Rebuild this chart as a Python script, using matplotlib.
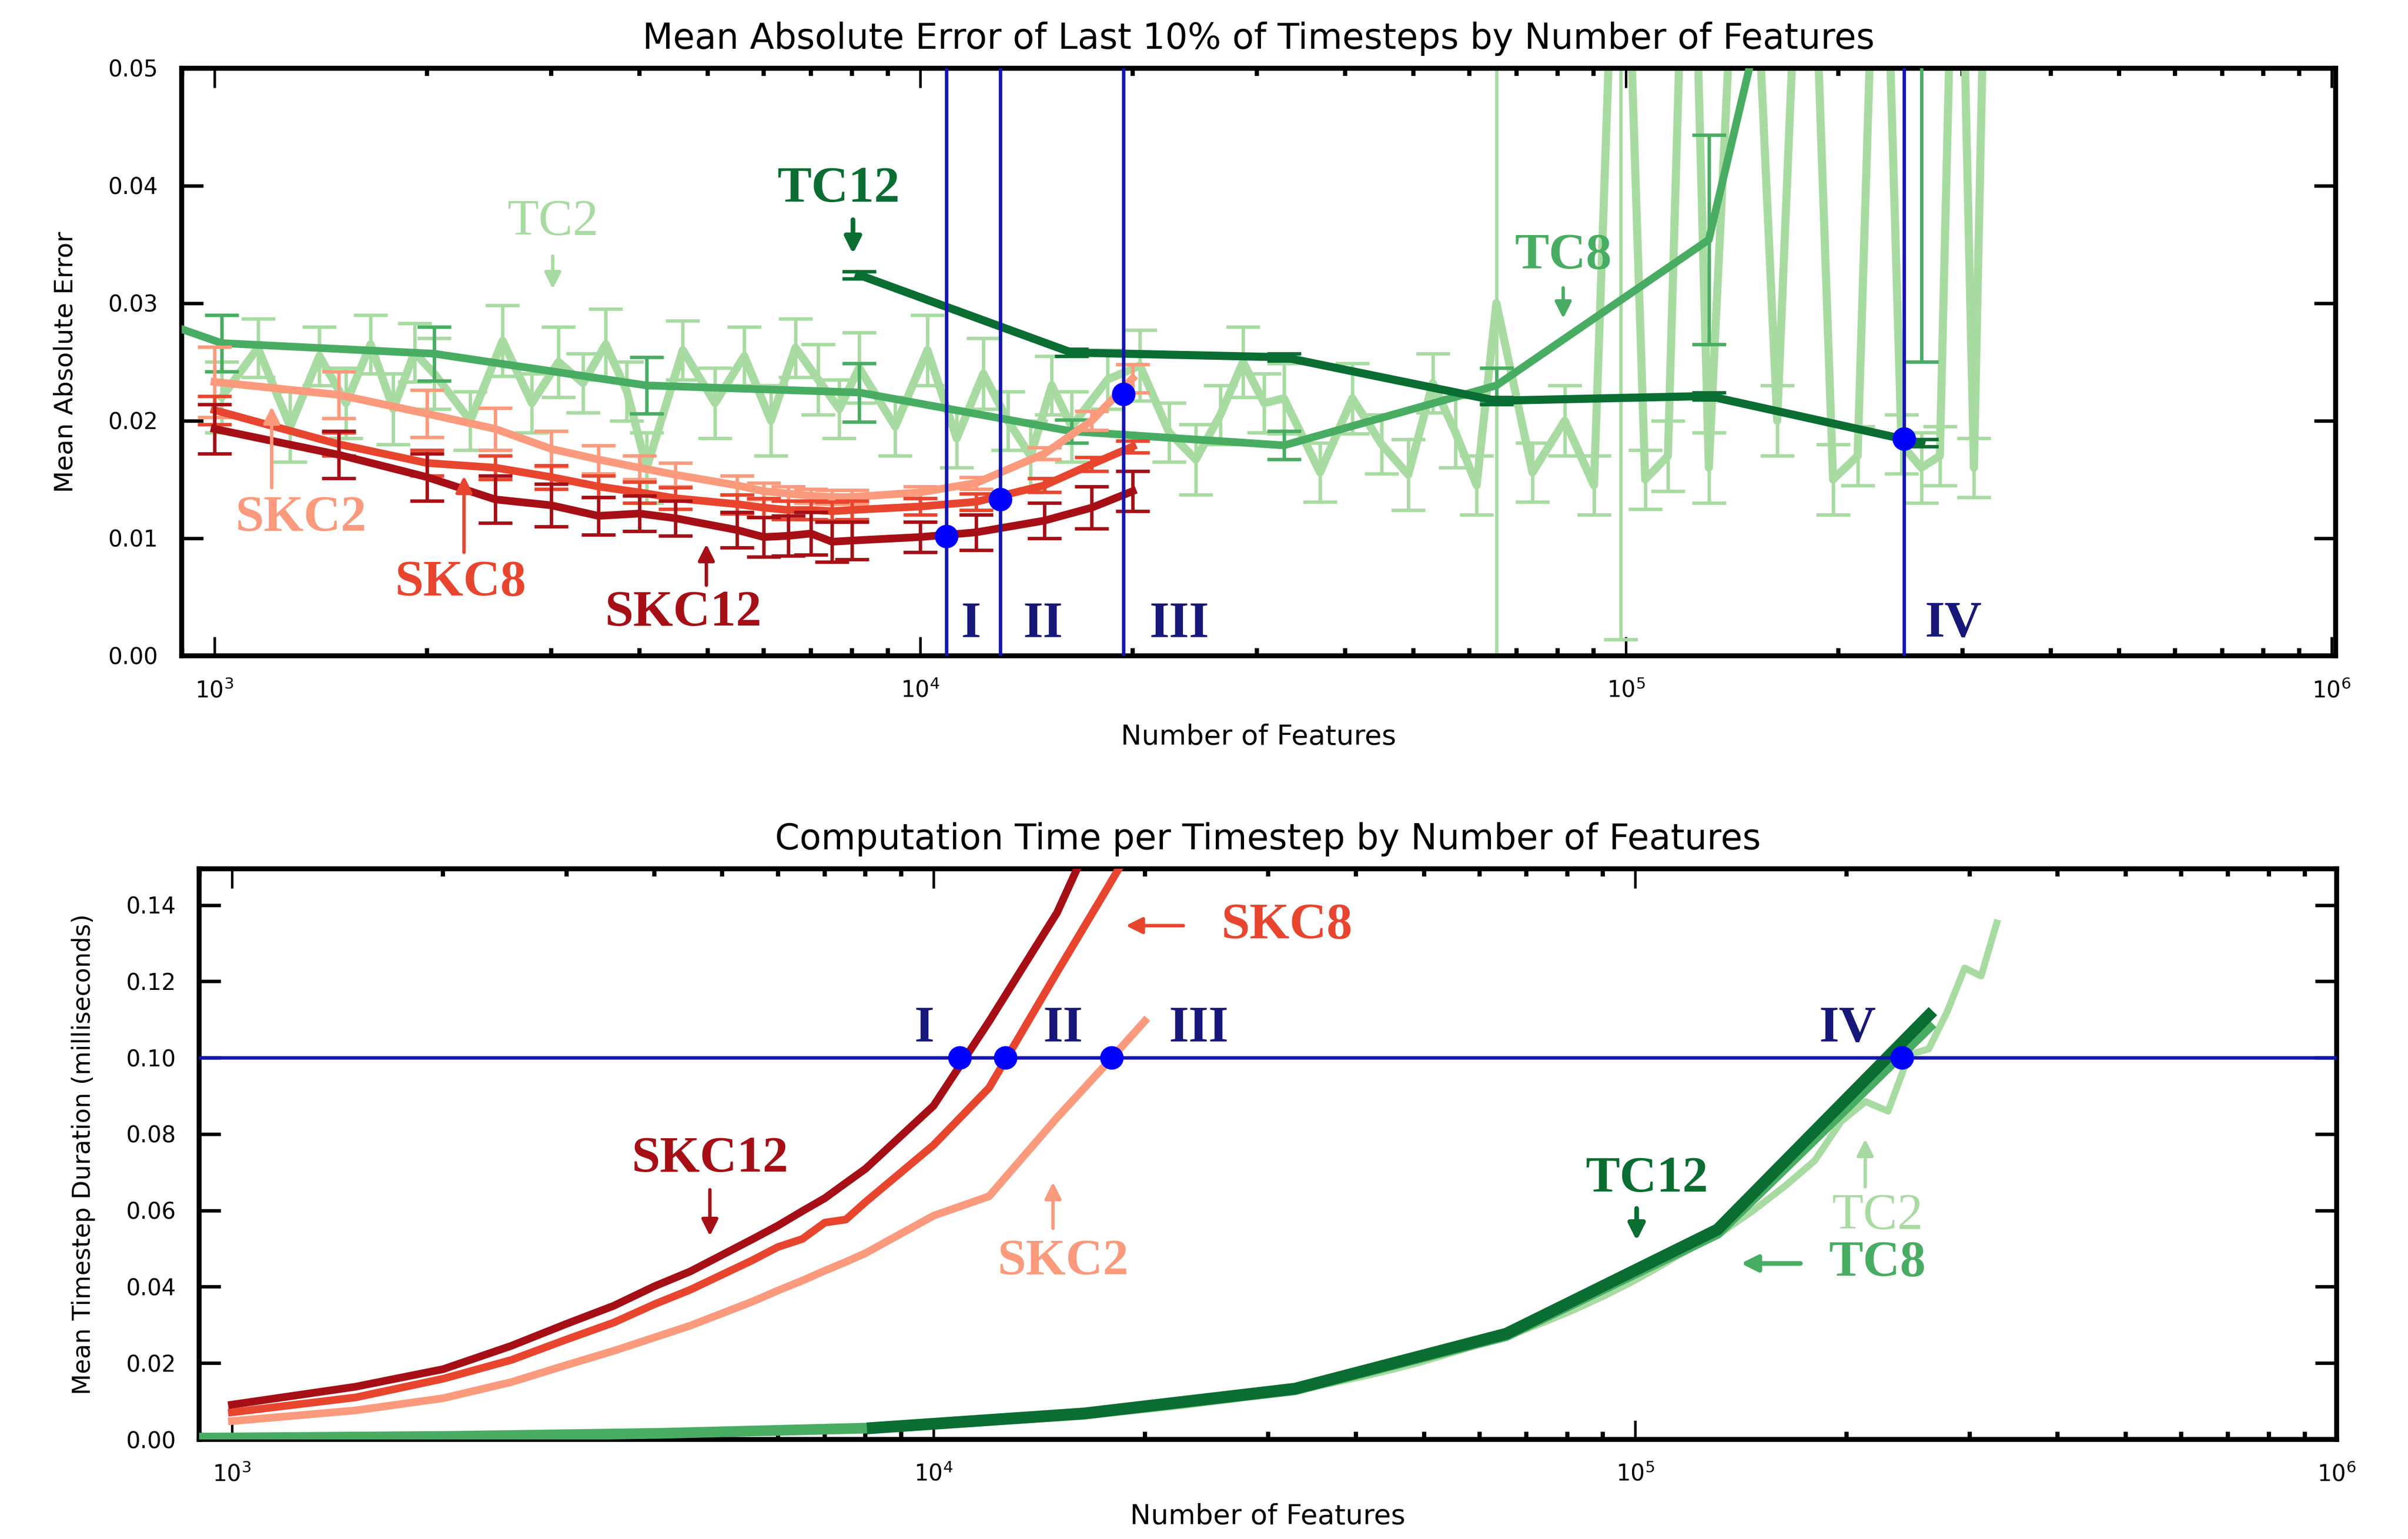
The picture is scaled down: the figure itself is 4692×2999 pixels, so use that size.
import matplotlib
matplotlib.use('Agg')
import matplotlib.pyplot as plt
from matplotlib.ticker import LogLocator, NullFormatter, FormatStrFormatter, MultipleLocator

# ---- data ----
skc_x = [1000, 1500, 2000, 2500, 3000, 3500, 4000, 4500, 5500, 6000,
         6500, 7000, 7500, 8000, 10000, 12000, 15000, 17500, 20000]

skc12_mae = [0.0193, 0.0171, 0.0152, 0.0133, 0.0128, 0.0119, 0.0121, 0.0117, 0.0107, 0.0101,
             0.0102, 0.0104, 0.0097, 0.0098, 0.0101, 0.0105, 0.0115, 0.0126, 0.0140]
skc12_err = [0.0021, 0.0020, 0.0020, 0.0020, 0.0018, 0.0016, 0.0015, 0.0015, 0.0015, 0.0017,
             0.0017, 0.0018, 0.0017, 0.0016, 0.0013, 0.0015, 0.0015, 0.0018, 0.0017]
skc8_mae = [0.0209, 0.0180, 0.0164, 0.0160, 0.0152, 0.0144, 0.0139, 0.0134, 0.0129, 0.0126,
            0.0124, 0.0124, 0.0123, 0.0124, 0.0127, 0.0131, 0.0145, 0.0163, 0.0178]
skc8_err = [0.0012, 0.0010, 0.0011, 0.0010, 0.0010, 0.0009, 0.0009, 0.0009, 0.0008, 0.0008,
            0.0008, 0.0008, 0.0008, 0.0008, 0.0007, 0.0007, 0.0006, 0.0006, 0.0005]
skc2_mae = [0.0233, 0.0222, 0.0206, 0.0193, 0.0176, 0.0167, 0.0160, 0.0154, 0.0145, 0.0140,
            0.0138, 0.0136, 0.0135, 0.0135, 0.0139, 0.0147, 0.0172, 0.0200, 0.0236]
skc2_err = [0.0030, 0.0020, 0.0020, 0.0018, 0.0015, 0.0012, 0.0010, 0.0010, 0.0008, 0.0007,
            0.0006, 0.0006, 0.0006, 0.0006, 0.0005, 0.0005, 0.0005, 0.0008, 0.0012]

skc12_time = [0.0091, 0.0138, 0.0184, 0.0245, 0.0303, 0.0350, 0.0401, 0.0440, 0.0523, 0.0560,
              0.0598, 0.0632, 0.0672, 0.0709, 0.0874, 0.1095, 0.1380, 0.1650, 0.1900]
skc8_time = [0.0071, 0.0110, 0.0159, 0.0208, 0.0262, 0.0306, 0.0354, 0.0392, 0.0468, 0.0504,
             0.0525, 0.0568, 0.0576, 0.0622, 0.0771, 0.0921, 0.1224, 0.1430, 0.1610]
skc2_time = [0.0048, 0.0076, 0.0108, 0.0150, 0.0195, 0.0232, 0.0267, 0.0298, 0.0360, 0.0390,
             0.0416, 0.0442, 0.0465, 0.0488, 0.0586, 0.0637, 0.0843, 0.0977, 0.1096]

tc8_x = [512, 1024, 2048, 4096, 8192, 16384, 32768, 65536, 131072, 262144]
tc8_mae = [0.0329, 0.0266, 0.0257, 0.0230, 0.0224, 0.0191, 0.0179, 0.0230, 0.0354, 0.1120]
tc8_err = [0.0025, 0.0024, 0.0023, 0.0024, 0.0025, 0.0010, 0.0012, 0.0015, 0.0089, 0.0870]
tc8_time = [0.0002, 0.0004, 0.0008, 0.0016, 0.0030, 0.0066, 0.0130, 0.0272, 0.0540, 0.1080]

tc12_x = [8192, 16384, 32768, 65536, 131072, 262144]
tc12_mae = [0.0324, 0.0258, 0.0254, 0.0217, 0.0221, 0.0181]
tc12_err = [0.0003, 0.0003, 0.0003, 0.0003, 0.0003, 0.0003]
tc12_time = [0.0030, 0.0068, 0.0133, 0.0277, 0.0550, 0.1111]

tc2_x = [1024, 1152, 1280, 1408, 1536, 1664, 1792, 1920,
         2048, 2304, 2560, 2816, 3072, 3328, 3584, 3840,
         4096, 4608, 5120, 5632, 6144, 6656, 7168, 7680,
         8192, 9216, 10240, 11264, 12288, 13312, 14336, 15360,
         16384, 18432, 20480, 22528, 24576, 26624, 28672, 30720,
         32768, 36864, 40960, 45056, 49152, 53248, 57344, 61440,
         65536, 73728, 81920, 90112, 98304, 106496, 114688, 122880,
         131072, 147456, 163840, 180224, 196608, 212992, 229376, 245760,
         262144, 278528, 294912, 311296, 327680]
tc2_mae = [0.0220, 0.0262, 0.0195, 0.0255, 0.0215, 0.0265, 0.0210, 0.0258,
           0.0240, 0.0200, 0.0268, 0.0215, 0.0250, 0.0232, 0.0265, 0.0225,
           0.0160, 0.0260, 0.0215, 0.0255, 0.0200, 0.0262, 0.0235, 0.0210,
           0.0245, 0.0195, 0.0260, 0.0185, 0.0240, 0.0200, 0.0170, 0.0230,
           0.0195, 0.0235, 0.0247, 0.0190, 0.0167, 0.0205, 0.0250, 0.0215,
           0.0219, 0.0156, 0.0219, 0.0180, 0.0154, 0.0232, 0.0190, 0.0145,
           0.0300, 0.0156, 0.0200, 0.0145, 0.0800, 0.0150, 0.0170, 0.0800,
           0.0160, 0.0800, 0.0200, 0.0800, 0.0150, 0.0170, 0.0800, 0.0180,
           0.0160, 0.0170, 0.0800, 0.0160, 0.0800]
tc2_err = [0.0030, 0.0025, 0.0030, 0.0025, 0.0030, 0.0025, 0.0030, 0.0025,
           0.0030, 0.0025, 0.0030, 0.0025, 0.0030, 0.0025, 0.0030, 0.0025,
           0.0030, 0.0025, 0.0030, 0.0025, 0.0030, 0.0025, 0.0030, 0.0025,
           0.0030, 0.0025, 0.0030, 0.0025, 0.0030, 0.0025, 0.0030, 0.0025,
           0.0030, 0.0025, 0.0030, 0.0025, 0.0030, 0.0025, 0.0030, 0.0025,
           0.0030, 0.0025, 0.0030, 0.0025, 0.0030, 0.0025, 0.0030, 0.0025,
           0.0360, 0.0025, 0.0030, 0.0025, 0.0786, 0.0025, 0.0030, 0.0025,
           0.0030, 0.0025, 0.0030, 0.0025, 0.0030, 0.0025, 0.0030, 0.0025,
           0.0030, 0.0025, 0.0030, 0.0025, 0.0030]
tc2_time = [0.0004, 0.0004, 0.0005, 0.0005, 0.0006, 0.0006, 0.0007, 0.0007,
            0.0008, 0.0009, 0.0010, 0.0011, 0.0012, 0.0013, 0.0014, 0.0015,
            0.0016, 0.0018, 0.0020, 0.0022, 0.0024, 0.0026, 0.0027, 0.0029,
            0.0031, 0.0035, 0.0039, 0.0043, 0.0047, 0.0051, 0.0055, 0.0059,
            0.0064, 0.0072, 0.0080, 0.0088, 0.0097, 0.0105, 0.0113, 0.0121,
            0.0129, 0.0147, 0.0165, 0.0183, 0.0201, 0.0220, 0.0238, 0.0256,
            0.0270, 0.0305, 0.0340, 0.0375, 0.0410, 0.0445, 0.0480, 0.0510,
            0.0535, 0.0600, 0.0665, 0.0730, 0.0833, 0.0885, 0.0860, 0.1008,
            0.1023, 0.1121, 0.1235, 0.1214, 0.1353]

# crossover markers
cut_names = ['I', 'II', 'III', 'IV']
top_cut_x = [10894, 12994, 19400, 248000]
top_cut_y = [0.01017, 0.01333, 0.02228, 0.01847]
bot_cut_x = [10900, 12660, 17950, 240000]
time_budget = 0.10

# ---- colours ----
c_skc12 = '#a50f15'
c_skc8 = '#e8452f'
c_skc2 = '#fb9a7c'
c_tc12 = '#0a6d31'
c_tc8 = '#48ad62'
c_tc2 = '#a8dba1'
c_blue = '#1414b4'
c_dot = '#0000ff'
c_roman = '#17177a'

plt.rcParams['font.family'] = 'DejaVu Sans'

fig = plt.figure(figsize=(15.64, 9.997), dpi=300)
ax1 = fig.add_axes([0.0754, 0.5739, 0.8945, 0.3818])
ax2 = fig.add_axes([0.0827, 0.0647, 0.8877, 0.3708])


def style_axis(ax):
    ax.set_xscale('log')
    for s in ax.spines.values():
        s.set_linewidth(2.3)
    ax.xaxis.set_major_locator(LogLocator(base=10, numticks=10))
    ax.xaxis.set_minor_locator(LogLocator(base=10, subs=range(2, 10), numticks=20))
    ax.xaxis.set_minor_formatter(NullFormatter())
    ax.tick_params(which='both', direction='in', top=True, right=True, labelsize=10.5)
    ax.tick_params(which='major', length=9, width=1.2, pad=11)
    ax.tick_params(which='minor', length=3.5, width=2.0)
    ax.tick_params(axis='y', which='major', length=10, width=1.6)


def label(ax, x, y, s, c, size=24, weight='bold'):
    ax.text(x, y, s, color=c, fontsize=size, fontweight=weight,
            family='Liberation Serif', ha='center', va='center', zorder=20)


def arrow(ax, tail, head, c, lw=1.6):
    ax.annotate('', xy=head, xytext=tail, zorder=20,
                arrowprops=dict(arrowstyle='-|>', color=c, lw=lw, mutation_scale=16,
                                shrinkA=0, shrinkB=0))


# ---- top panel: error ----
ek = dict(elinewidth=1.6, capsize=8, capthick=1.6)
ax1.errorbar(tc2_x, tc2_mae, yerr=tc2_err, color=c_tc2, lw=3.8, zorder=2, **ek)
ax1.errorbar(tc8_x, tc8_mae, yerr=tc8_err, color=c_tc8, lw=3.6, zorder=3, **ek)
ax1.errorbar(tc12_x, tc12_mae, yerr=tc12_err, color=c_tc12, lw=3.8, zorder=4, **ek)
ax1.errorbar(skc_x, skc2_mae, yerr=skc2_err, color=c_skc2, lw=3.6, zorder=5, **ek)
ax1.errorbar(skc_x, skc8_mae, yerr=skc8_err, color=c_skc8, lw=3.6, zorder=6, **ek)
ax1.errorbar(skc_x, skc12_mae, yerr=skc12_err, color=c_skc12, lw=3.6, zorder=7, **ek)

for xv in top_cut_x:
    ax1.axvline(xv, color=c_blue, lw=1.6, zorder=9)
ax1.plot(top_cut_x, top_cut_y, 'o', color=c_dot, ms=10, zorder=10)

ax1.set_xlim(898, 1.013e6)
ax1.set_ylim(0, 0.05)
ax1.yaxis.set_major_locator(MultipleLocator(0.01))
ax1.yaxis.set_major_formatter(FormatStrFormatter('%.2f'))
style_axis(ax1)
ax1.set_title('Mean Absolute Error of Last 10% of Timesteps by Number of Features',
              fontsize=16.5, pad=9)
ax1.set_xlabel('Number of Features', fontsize=13, labelpad=10)
ax1.set_ylabel('Mean Absolute Error', fontsize=12, labelpad=14)

label(ax1, 7660, 0.0397, 'TC12', c_tc12)
arrow(ax1, (8030, 0.0371), (8030, 0.0342), c_tc12, lw=2.2)
label(ax1, 3015, 0.0369, 'TC2', c_tc2, weight='normal')
arrow(ax1, (3015, 0.0340), (3015, 0.0312), c_tc2)
label(ax1, 81500, 0.0340, 'TC8', c_tc8)
arrow(ax1, (81500, 0.0313), (81500, 0.0287), c_tc8)
label(ax1, 1325, 0.0117, 'SKC2', c_skc2)
arrow(ax1, (1205, 0.0143), (1205, 0.0212), c_skc2)
label(ax1, 2234, 0.0062, 'SKC8', c_skc8)
arrow(ax1, (2257, 0.0088), (2257, 0.0153), c_skc8)
label(ax1, 4615, 0.0036, 'SKC12', c_skc12)
arrow(ax1, (4977, 0.0060), (4977, 0.0095), c_skc12)
for name, xv in zip(cut_names, [11800, 14940, 23300, 291000]):
    label(ax1, xv, 0.0027, name, c_roman)

# ---- bottom panel: time ----
ax2.plot(tc2_x, tc2_time, color=c_tc2, lw=3.2, zorder=2)
ax2.plot(tc8_x, tc8_time, color=c_tc8, lw=5.0, zorder=3)
ax2.plot(tc12_x, tc12_time, color=c_tc12, lw=5.5, zorder=4)
ax2.plot(skc_x, skc2_time, color=c_skc2, lw=3.6, zorder=5)
ax2.plot(skc_x, skc8_time, color=c_skc8, lw=3.6, zorder=6)
ax2.plot(skc_x, skc12_time, color=c_skc12, lw=3.6, zorder=7)

ax2.axhline(time_budget, color=c_blue, lw=1.6, zorder=8)
ax2.plot(bot_cut_x, [time_budget] * len(bot_cut_x), 'o', color=c_dot, ms=10, zorder=10)

ax2.set_xlim(898, 1.0e6)
ax2.set_ylim(0, 0.1495)
ax2.yaxis.set_major_locator(MultipleLocator(0.02))
ax2.yaxis.set_major_formatter(FormatStrFormatter('%.2f'))
style_axis(ax2)
ax2.set_title('Computation Time per Timestep by Number of Features', fontsize=16.5, pad=9)
ax2.set_xlabel('Number of Features', fontsize=13, labelpad=8)
ax2.set_ylabel('Mean Timestep Duration (milliseconds)', fontsize=11.5, labelpad=14)

label(ax2, 31900, 0.1346, 'SKC8', c_skc8)
arrow(ax2, (22700, 0.1346), (18800, 0.1346), c_skc8)
for name, xv in zip(cut_names, [9700, 15300, 23900, 201000]):
    label(ax2, xv, 0.1076, name, c_roman)
label(ax2, 4800, 0.0734, 'SKC12', c_skc12)
arrow(ax2, (4800, 0.0654), (4800, 0.0533), c_skc12)
label(ax2, 15300, 0.0465, 'SKC2', c_skc2)
arrow(ax2, (14800, 0.0553), (14800, 0.0674), c_skc2)
label(ax2, 104000, 0.0682, 'TC12', c_tc12)
arrow(ax2, (100500, 0.0605), (100500, 0.0521), c_tc12, lw=2.2)
label(ax2, 221600, 0.0585, 'TC2', c_tc2, weight='normal')
arrow(ax2, (212800, 0.0662), (212800, 0.0787), c_tc2)
label(ax2, 221600, 0.0461, 'TC8', c_tc8)
arrow(ax2, (172000, 0.0461), (141500, 0.0461), c_tc8, lw=2.2)

fig.savefig('out.png', dpi=300)
